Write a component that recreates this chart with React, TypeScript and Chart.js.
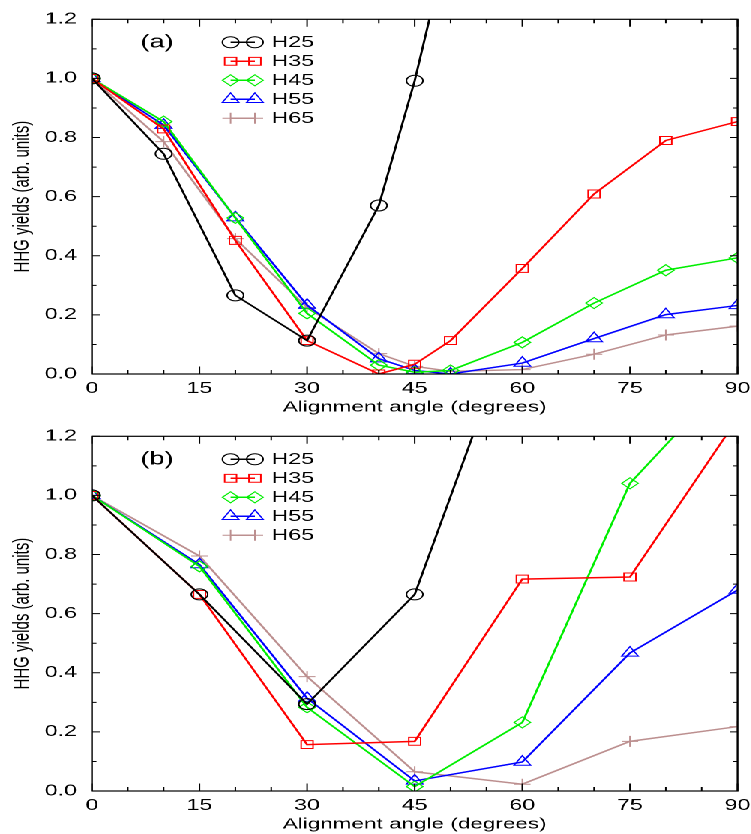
import React, { useEffect, useRef } from "react";
import { Chart, registerables } from "chart.js";

Chart.register(...registerables);

// ---------- data ----------
const seriesNames = ["H25", "H35", "H45", "H55", "H65"];
const seriesColors = ["#000000", "#ff0000", "#00ee00", "#0000ff", "#bc8f8f"];
const seriesMarkers = ["circle", "rect", "rectRot", "triangle", "cross"];
const markerRadius = [5.5, 5.6, 5.5, 6.4, 5.5];

const anglesA = [0, 10, 20, 30, 40, 45, 50, 60, 70, 80, 90];
const h25A = [1.0, 0.745, 0.266, 0.113, 0.57, 0.992, 1.5];
const h35A = [1.0, 0.829, 0.452, 0.113, 0.0, 0.033, 0.113, 0.357, 0.609, 0.79, 0.854];
const h45A = [1.0, 0.854, 0.528, 0.205, 0.03, 0.006, 0.012, 0.107, 0.24, 0.351, 0.393];
const h55A = [1.0, 0.842, 0.529, 0.233, 0.052, 0.012, 0.0, 0.037, 0.12, 0.201, 0.232];
const h65A = [1.0, 0.786, 0.458, 0.225, 0.069, 0.026, 0.009, 0.015, 0.067, 0.132, 0.162];

const anglesB = [0, 15, 30, 45, 60, 75, 90];
const h25B = [1.0, 0.665, 0.294, 0.665, 1.66];
const h35B = [1.0, 0.665, 0.157, 0.168, 0.717, 0.724, 1.26];
const h45B = [1.0, 0.76, 0.283, 0.015, 0.232, 1.041, 1.43];
const h55B = [1.0, 0.766, 0.314, 0.034, 0.098, 0.467, 0.68];
const h65B = [1.0, 0.795, 0.387, 0.065, 0.023, 0.168, 0.218];

const xTickStep = 15;
const xMinorStep = 5;
const yTickStep = 0.2;
const yMinorStep = 0.1;
const xTitle = "Alignment angle (degrees)";
const yTitle = "HHG yields (arb. units)";

const FONT = "'Liberation Sans', Arial, Helvetica, sans-serif";

function drawMarker(ctx: CanvasRenderingContext2D, style: string, x: number, y: number, r: number) {
  ctx.beginPath();
  if (style === "circle") {
    ctx.arc(x, y, r, 0, Math.PI * 2);
  } else if (style === "rect") {
    const s = Math.SQRT1_2 * r;
    ctx.rect(x - s, y - s, 2 * s, 2 * s);
  } else if (style === "rectRot") {
    ctx.moveTo(x, y - r);
    ctx.lineTo(x + r, y);
    ctx.lineTo(x, y + r);
    ctx.lineTo(x - r, y);
    ctx.closePath();
  } else if (style === "triangle") {
    let a = 0;
    ctx.moveTo(x + Math.sin(a) * r, y - Math.cos(a) * r);
    a += (2 * Math.PI) / 3;
    ctx.lineTo(x + Math.sin(a) * r, y - Math.cos(a) * r);
    a += (2 * Math.PI) / 3;
    ctx.lineTo(x + Math.sin(a) * r, y - Math.cos(a) * r);
    ctx.closePath();
  } else if (style === "cross") {
    ctx.moveTo(x, y - r);
    ctx.lineTo(x, y + r);
    ctx.moveTo(x - r, y);
    ctx.lineTo(x + r, y);
  }
  ctx.stroke();
}

function makeDatasets(angles: number[], series: number[][]) {
  return series.map((vals, i) => ({
    label: seriesNames[i],
    data: vals.map((v, j) => ({ x: angles[j], y: v })),
    borderColor: seriesColors[i],
    backgroundColor: "rgba(0,0,0,0)",
    borderWidth: 1.5,
    pointStyle: seriesMarkers[i] as any,
    pointRadius: markerRadius[i],
    pointBorderWidth: 1,
    pointBorderColor: seriesColors[i],
    pointBackgroundColor: "rgba(0,0,0,0)",
    tension: 0,
    fill: false,
  }));
}

function Panel({ tag, angles, series }: { tag: string; angles: number[]; series: number[][] }) {
  const ref = useRef<HTMLCanvasElement | null>(null);
  useEffect(() => {
    if (!ref.current) return;
    const decor = {
      id: "decor" + tag,
      afterDraw(chart: any) {
        const ctx: CanvasRenderingContext2D = chart.ctx;
        const { left, right, top, bottom } = chart.chartArea;
        const xs = chart.scales.x;
        const ys = chart.scales.y;
        ctx.save();
        ctx.strokeStyle = "#000";
        ctx.lineWidth = 1.2;
        ctx.strokeRect(left, top, right - left, bottom - top);
        ctx.lineWidth = 1;
        ctx.beginPath();
        for (let v = 0; v <= 90 + 1e-6; v += xMinorStep) {
          const px = xs.getPixelForValue(v);
          const len = Math.abs(v % xTickStep) < 1e-6 ? 7.5 : 4;
          ctx.moveTo(px, bottom);
          ctx.lineTo(px, bottom - len);
          ctx.moveTo(px, top);
          ctx.lineTo(px, top + len);
        }
        for (let k = 0; k <= 12; k++) {
          const v = k * yMinorStep;
          const py = ys.getPixelForValue(v);
          const len = k % 2 === 0 ? 5.3 : 3;
          ctx.moveTo(left, py);
          ctx.lineTo(left + len, py);
          ctx.moveTo(right, py);
          ctx.lineTo(right - len, py);
        }
        ctx.stroke();

        // panel tag
        ctx.fillStyle = "#000";
        ctx.font = `18px ${FONT}`;
        ctx.textAlign = "center";
        ctx.textBaseline = "middle";
        ctx.fillText(tag, 104.7, 42.5);

        // legend
        ctx.font = `15.5px ${FONT}`;
        ctx.textAlign = "left";
        chart.data.datasets.forEach((ds: any, i: number) => {
          const y = 42.3 + i * 19;
          const x1 = 153.8;
          const x2 = 170;
          ctx.strokeStyle = ds.borderColor;
          ctx.lineWidth = 1.5;
          ctx.beginPath();
          ctx.moveTo(x1, y);
          ctx.lineTo(x2, y);
          ctx.stroke();
          ctx.lineWidth = 1;
          drawMarker(ctx, seriesMarkers[i], x1, y, markerRadius[i]);
          drawMarker(ctx, seriesMarkers[i], x2, y, markerRadius[i]);
          ctx.fillStyle = "#000";
          ctx.fillText(ds.label, 181.1, y + 0.5);
        });
        ctx.restore();
      },
    };
    const chart = new Chart(ref.current, {
      type: "line",
      data: { datasets: makeDatasets(angles, series) as any },
      options: {
        animation: false,
        responsive: true,
        maintainAspectRatio: false,
        devicePixelRatio: 2,
        layout: { padding: { top: 15.5, right: 9.2, left: 0, bottom: 0 } },
        plugins: { legend: { display: false }, tooltip: { enabled: false } },
        scales: {
          x: {
            type: "linear",
            min: 0,
            max: 90,
            grid: { display: false, drawTicks: false },
            border: { display: false },
            ticks: {
              stepSize: xTickStep,
              color: "#000",
              padding: 5.5,
              font: { size: 15.5, family: FONT },
            },
            title: {
              display: true,
              text: xTitle,
              color: "#000",
              font: { size: 15, family: FONT },
              padding: { top: 0, bottom: 0.5 },
            },
            afterFit(s: any) {
              s.height = 43;
              s.paddingLeft = 0;
              s.paddingRight = 0;
            },
          },
          y: {
            type: "linear",
            min: 0,
            max: 1.2,
            grid: { display: false, drawTicks: false },
            border: { display: false },
            ticks: {
              stepSize: yTickStep,
              color: "#000",
              padding: 10,
              font: { size: 15.5, family: FONT },
              callback: (v: any) => Number(v).toFixed(1),
            },
            title: {
              display: true,
              text: yTitle,
              color: "#000",
              font: { size: 15, family: FONT },
              padding: { top: 6, bottom: 0 },
            },
            afterFit(s: any) {
              s.width = 61.3;
            },
          },
        },
      },
      plugins: [decor],
    });
    return () => chart.destroy();
  }, [tag, angles, series]);
  return (
    <div style={{ position: "relative", width: 501, height: 417 }}>
      <canvas ref={ref} />
    </div>
  );
}

const seriesA = [h25A, h35A, h45A, h55A, h65A];
const seriesB = [h25B, h35B, h45B, h55B, h65B];

export default function App() {
  return (
    <div
      style={{
        position: "absolute",
        left: 0,
        top: 0,
        width: 501,
        height: 834,
        transform: "scaleX(1.5)",
        transformOrigin: "0 0",
        background: "#fff",
      }}
    >
      <Panel tag="(a)" angles={anglesA} series={seriesA} />
      <Panel tag="(b)" angles={anglesB} series={seriesB} />
    </div>
  );
}
